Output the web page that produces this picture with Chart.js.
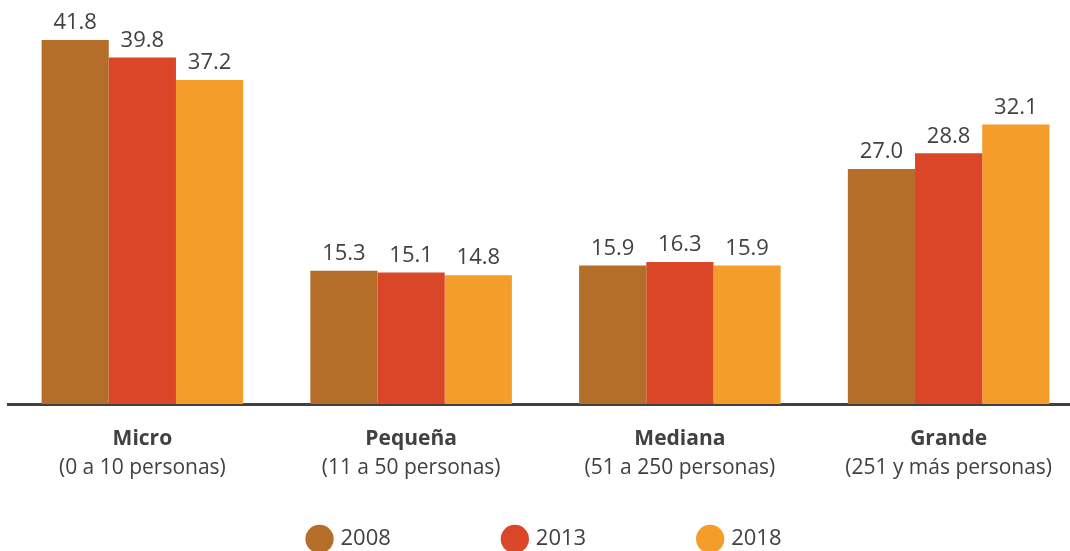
<!DOCTYPE html>
<html>
<head>
<meta charset="utf-8">
<script src="https://cdn.jsdelivr.net/npm/chart.js@4.4.1/dist/chart.umd.min.js"></script>
<style>
  html, body { margin: 0; padding: 0; overflow: hidden; background: #fff; }
  #wrap { width: 1083px; height: 560px; }
</style>
</head>
<body>
<div id="wrap"><canvas id="chart"></canvas></div>
<script>
const categories = ['Micro', 'Pequeña', 'Mediana', 'Grande'];
const subLabels = ['(0 a 10 personas)', '(11 a 50 personas)', '(51 a 250 personas)', '(251 y más personas)'];
const years = ['2008', '2013', '2018'];
const values2008 = [41.8, 15.3, 15.9, 27.0];
const values2013 = [39.8, 15.1, 16.3, 28.8];
const values2018 = [37.2, 14.8, 15.9, 32.1];

const textColor = '#414042';
const fontFamily = '"Open Sans", sans-serif';

// value labels above each bar
const valueLabels = {
    id: 'valueLabels',
    afterDatasetsDraw(chart) {
        const ctx = chart.ctx;
        ctx.save();
        ctx.font = '22px ' + fontFamily;
        ctx.fillStyle = textColor;
        ctx.textAlign = 'center';
        ctx.textBaseline = 'bottom';
        chart.data.datasets.forEach((ds, i) => {
            chart.getDatasetMeta(i).data.forEach((bar, j) => {
                ctx.fillText(ds.data[j].toFixed(1), bar.x, bar.y - 6);
            });
        });
        ctx.restore();
    }
};

// two-line category labels: bold name, normal range
const categoryLabels = {
    id: 'categoryLabels',
    afterDraw(chart) {
        const ctx = chart.ctx;
        const x = chart.scales.x;
        const base = chart.chartArea.bottom;
        ctx.save();
        ctx.fillStyle = textColor;
        ctx.textAlign = 'center';
        ctx.textBaseline = 'middle';
        categories.forEach((c, i) => {
            const px = x.getPixelForTick(i);
            ctx.font = 'bold 21px ' + fontFamily;
            ctx.fillText(c, px, base + 35);
            ctx.font = '21px ' + fontFamily;
            ctx.fillText(subLabels[i], px, base + 64);
        });
        ctx.restore();
    }
};

new Chart(document.getElementById('chart'), {
    type: 'bar',
    data: {
        labels: categories,
        datasets: [
            { label: years[0], data: values2008, backgroundColor: '#b56d2a' },
            { label: years[1], data: values2013, backgroundColor: '#da4628' },
            { label: years[2], data: values2018, backgroundColor: '#f49d2a' }
        ]
    },
    options: {
        responsive: true,
        maintainAspectRatio: false,
        animation: false,
        layout: { padding: { left: 8, right: 0, top: 0, bottom: 0 } },
        datasets: { bar: { categoryPercentage: 0.75, barPercentage: 1 } },
        scales: {
            x: {
                grid: { display: false },
                ticks: { display: false },
                border: { display: true, color: '#404040', width: 3 },
                afterFit(scale) { scale.height = 10; }
            },
            y: { display: false, min: 0, max: 46.4 }
        },
        plugins: {
            tooltip: { enabled: false },
            legend: {
                position: 'bottom',
                labels: {
                    usePointStyle: true,
                    pointStyle: 'circle',
                    boxWidth: 20,
                    boxHeight: 20,
                    padding: 114,
                    color: textColor,
                    font: { family: fontFamily, size: 22 }
                }
            }
        }
    },
    plugins: [valueLabels, categoryLabels]
});
</script>
</body>
</html>
